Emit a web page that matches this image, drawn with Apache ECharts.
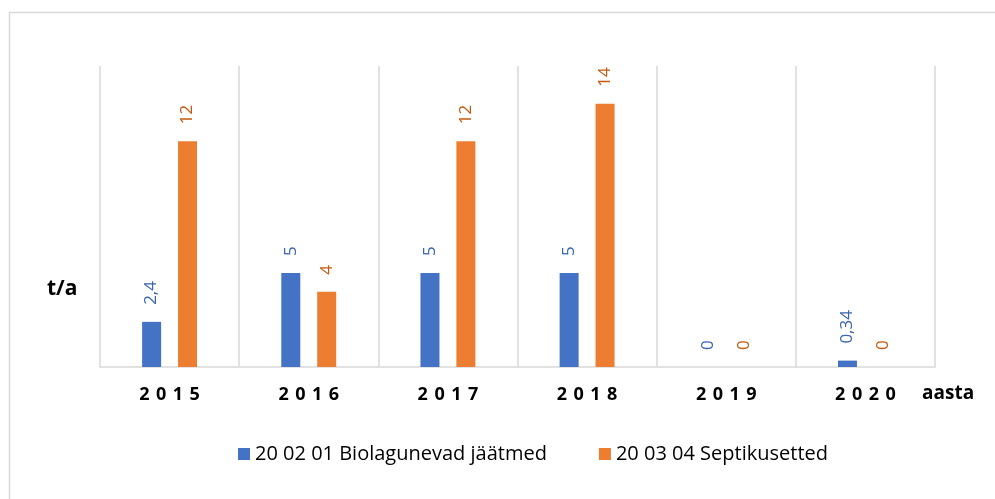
<!DOCTYPE html>
<html>
<head>
<meta charset="utf-8">
<script src="https://cdn.jsdelivr.net/npm/echarts@6/dist/echarts.min.js"></script>
<style>
  html, body { margin: 0; padding: 0; background: #fff; }
  #chart { width: 995px; height: 499px; }
</style>
</head>
<body>
<div id="chart"></div>
<script>
// andmed
var years = ["2015", "2016", "2017", "2018", "2019", "2020"];
var bioNimi = "20 02 01 Biolagunevad jäätmed";
var bioVaartused = [2.4, 5, 5, 5, 0, 0.34];
var septNimi = "20 03 04 Septikusetted";
var septVaartused = [12, 4, 12, 14, 0, 0];

var fontName = "'Open Sans', sans-serif";

function komaga(p) {
    return String(p.value).replace(".", ",");
}

var chart = echarts.init(document.getElementById("chart"));
chart.setOption({
    animation: false,
    textStyle: { fontFamily: fontName },
    graphic: [
        {
            type: "rect",
            shape: { x: 9.5, y: 12.5, width: 1000, height: 500 },
            style: { fill: "none", stroke: "#D9D9D9", lineWidth: 1.5 }
        },
        {
            type: "text",
            left: 47, top: 279,
            style: { text: "t/a", font: "bold 21px " + fontName, fill: "#000" }
        },
        {
            type: "text",
            left: 922, top: 384,
            style: { text: "aasta", font: "bold 19px " + fontName, fill: "#000" }
        }
    ],
    grid: { left: 100, right: 60, top: 66, bottom: 132 },
    legend: {
        top: 439,
        left: 233,
        itemWidth: 12,
        itemHeight: 12,
        itemGap: 52,
        icon: "rect",
        textStyle: { fontSize: 20, color: "#000", fontFamily: fontName },
        data: [bioNimi, septNimi]
    },
    xAxis: {
        type: "category",
        data: years,
        axisLine: { lineStyle: { color: "#D9D9D9", width: 1.5 } },
        axisTick: { show: false },
        splitLine: { show: true, interval: 0, lineStyle: { color: "#D9D9D9", width: 1.5 } },
        axisLabel: {
            margin: 19,
            fontSize: 18,
            fontWeight: "bold",
            color: "#000",
            formatter: function (v) { return v.split("").join(" \u200A"); }
        }
    },
    yAxis: {
        type: "value",
        min: 0,
        max: 16,
        show: false,
        splitLine: { show: false }
    },
    series: [
        {
            name: bioNimi,
            type: "bar",
            data: bioVaartused,
            barWidth: 19,
            barGap: "89%",
            itemStyle: { color: "#4472C4" },
            label: {
                show: true,
                position: "top",
                rotate: 90,
                distance: 17,
                align: "left",
                verticalAlign: "middle",
                fontSize: 17,
                color: "#3A65B0",
                formatter: komaga
            }
        },
        {
            name: septNimi,
            type: "bar",
            data: septVaartused,
            barWidth: 19,
            itemStyle: { color: "#ED7D31" },
            label: {
                show: true,
                position: "top",
                rotate: 90,
                distance: 17,
                align: "left",
                verticalAlign: "middle",
                fontSize: 17,
                color: "#C55A11",
                formatter: komaga
            }
        }
    ]
});
</script>
</body>
</html>
